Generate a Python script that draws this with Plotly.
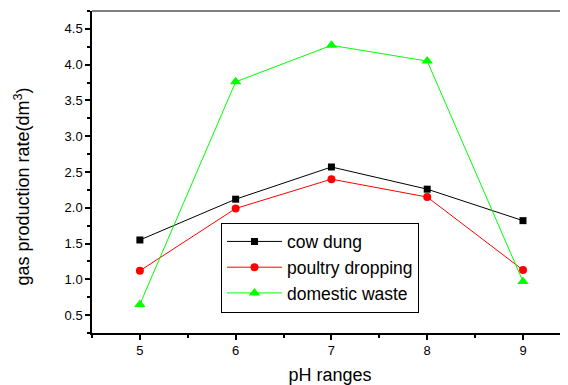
import plotly.graph_objects as go

ph = [5, 6, 7, 8, 9]
cow_dung = [1.55, 2.12, 2.57, 2.26, 1.82]
poultry_dropping = [1.12, 1.99, 2.40, 2.15, 1.13]
domestic_waste = [0.65, 3.76, 4.27, 4.05, 0.97]

fig = go.Figure()
fig.add_trace(go.Scatter(x=ph, y=cow_dung, name="cow dung", mode="lines+markers",
                         line=dict(color="#000000", width=1),
                         marker=dict(symbol="square", size=7, color="#000000")))
fig.add_trace(go.Scatter(x=ph, y=poultry_dropping, name="poultry dropping", mode="lines+markers",
                         line=dict(color="#ff0000", width=1),
                         marker=dict(symbol="circle", size=8, color="#ff0000")))
fig.add_trace(go.Scatter(x=ph, y=domestic_waste, name="domestic waste", mode="lines+markers",
                         line=dict(color="#00ff00", width=1),
                         marker=dict(symbol="triangle-up", size=10, color="#00ff00")))

font = "Liberation Sans, Arial, sans-serif"
fig.update_layout(
    width=560, height=377,
    margin=dict(l=84, r=0, t=3, b=52),
    paper_bgcolor="white", plot_bgcolor="white",
    font=dict(family=font, color="#000000"),
    showlegend=True,
    legend=dict(x=0.271, y=0.343, xanchor="left", yanchor="top",
                bordercolor="#000000", borderwidth=1, bgcolor="white",
                font=dict(size=17.5, family=font, color="#000000"), tracegroupgap=0,
                itemwidth=55),
    xaxis=dict(range=[4.5, 9.47], tickvals=[5, 6, 7, 8, 9], ticks="outside", ticklen=5,
               tickwidth=1.5, tickcolor="#000000", showgrid=False, zeroline=False,
               showline=True, linecolor="#000000", linewidth=1.5,
               tickfont=dict(size=13, color="#000000"),
               minor=dict(tickvals=[4.5, 5.5, 6.5, 7.5, 8.5], ticks="outside", ticklen=3,
                          tickcolor="#000000", tickwidth=1.5),
               title=dict(text="pH ranges", font=dict(size=18, color="#000000"), standoff=11)),
    yaxis=dict(range=[0.25, 4.75], tickvals=[0.5, 1.0, 1.5, 2.0, 2.5, 3.0, 3.5, 4.0, 4.5],
               ticktext=["0.5", "1.0", "1.5", "2.0", "2.5", "3.0", "3.5", "4.0", "4.5"],
               ticks="outside", ticklen=5, tickwidth=1.5, tickcolor="#000000",
               showgrid=False, zeroline=False, showline=True, linecolor="#000000", linewidth=1.5,
               tickfont=dict(size=13, color="#000000"),
               minor=dict(tickvals=[0.25, 0.75, 1.25, 1.75, 2.25, 2.75, 3.25, 3.75, 4.25, 4.75],
                          ticks="outside", ticklen=3, tickcolor="#000000", tickwidth=1.5)),
    annotations=[dict(text="gas production rate(dm<sup>3</sup>)", xref="paper", yref="paper",
                      x=-0.147, y=0.455, xanchor="center", yanchor="middle", textangle=-90,
                      showarrow=False, font=dict(size=18, color="#000000", family=font))],
    shapes=[dict(type="line", xref="paper", yref="paper", x0=0, x1=1, y0=1, y1=1,
                 line=dict(color="#808080", width=2))],
)

fig.write_html("out.html")
